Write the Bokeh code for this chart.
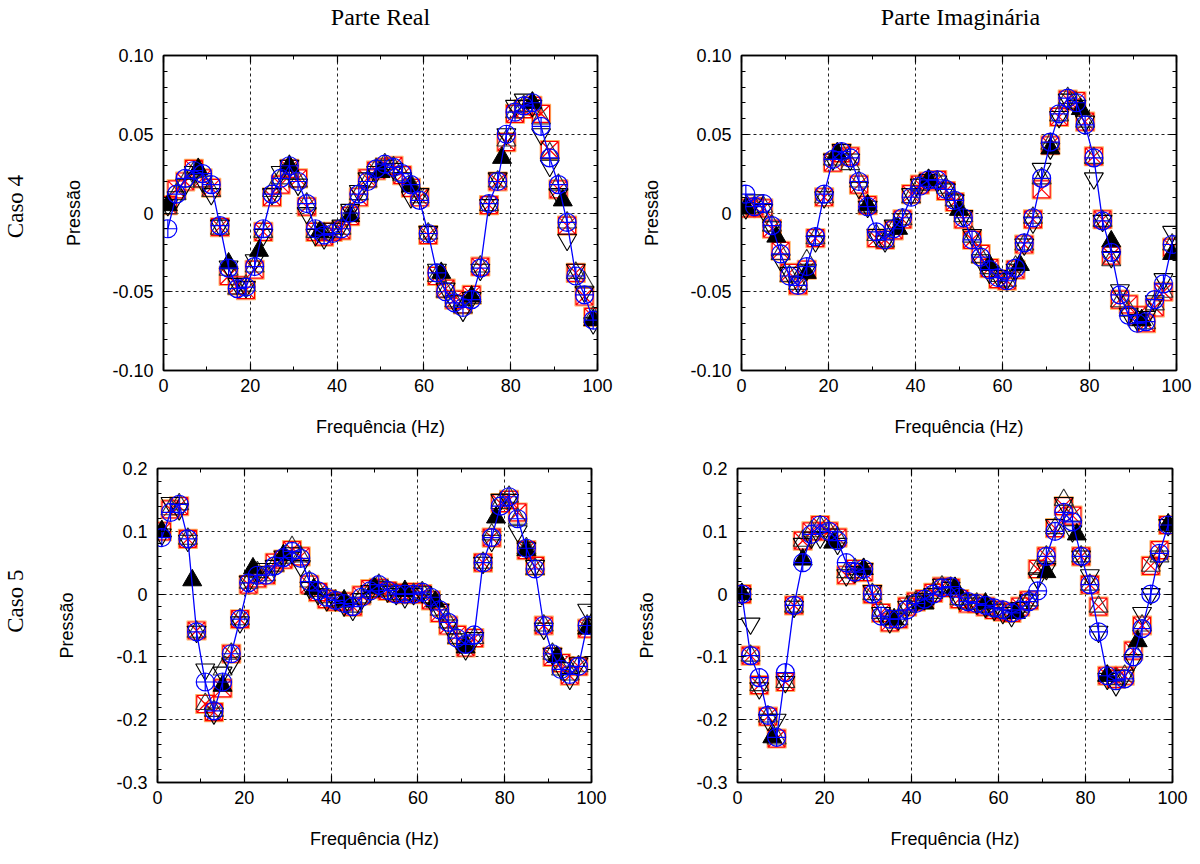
import math
from bokeh.plotting import figure
from bokeh.models import Range1d, FixedTicker, LinearAxis, Label
from bokeh.layouts import column, row
from bokeh.embed import file_html
from bokeh.resources import INLINE

# ---------------- data ----------------
F = [1, 3, 5, 7, 9, 11, 13, 15, 17, 19, 21, 23, 25, 27, 29, 31, 33, 35, 37, 39,
     41, 43, 45, 47, 49, 51, 53, 55, 57, 59, 61, 63, 65, 67, 69, 71, 73, 75, 77, 79,
     81, 83, 85, 87, 89, 91, 93, 95, 97, 99]
F7 = [1, 8, 15, 22, 29, 36, 43, 50, 57, 64, 71, 78, 85, 92, 99]

COL_TITLES = ["Parte Real", "Parte Imaginária"]
ROW_TITLES = ["Caso 4", "Caso 5"]

# Caso 4 - Parte Real
c4_re_blue = [-0.010, 0.012, 0.022, 0.027, 0.025, 0.018, -0.008, -0.035, -0.048, -0.047,
              -0.034, -0.010, 0.012, 0.022, 0.030, 0.020, 0.006, -0.010, -0.014, -0.013,
              -0.010, 0.000, 0.012, 0.020, 0.028, 0.031, 0.029, 0.025, 0.018, 0.008,
              -0.013, -0.038, -0.050, -0.057, -0.060, -0.055, -0.035, 0.006, 0.020, 0.050,
              0.064, 0.068, 0.070, 0.055, 0.035, 0.018, -0.006, -0.040, -0.052, -0.068]
c4_re_red = [0.005, 0.015, 0.020, 0.028, 0.022, 0.016, -0.009, -0.040, -0.046, -0.049,
             -0.036, -0.012, 0.010, 0.018, 0.028, 0.022, 0.004, -0.012, -0.015, -0.012,
             -0.011, -0.002, 0.010, 0.022, 0.027, 0.029, 0.030, 0.024, 0.016, 0.010,
             -0.014, -0.040, -0.048, -0.055, -0.058, -0.052, -0.034, 0.005, 0.020, 0.045,
             0.063, 0.066, 0.068, 0.063, 0.040, 0.015, -0.008, -0.038, -0.053, -0.066]
c4_re_dn = [0.005, 0.010, 0.018, 0.026, 0.020, 0.012, -0.008, -0.034, -0.045, -0.047,
            -0.030, -0.014, 0.012, 0.026, 0.030, 0.018, 0.000, -0.014, -0.016, -0.010,
            -0.008, 0.002, 0.014, 0.022, 0.026, 0.030, 0.028, 0.022, 0.010, 0.012,
            -0.012, -0.036, -0.048, -0.056, -0.062, -0.054, -0.036, 0.005, 0.022, 0.050,
            0.068, 0.072, 0.068, 0.050, 0.030, 0.012, -0.017, -0.036, -0.050, -0.070]
c4_re_up = [0.003, 0.012, 0.020, 0.026, 0.020, 0.014, -0.010, -0.036, -0.048, -0.046,
            -0.034, -0.012, 0.014, 0.022, 0.025, 0.020, 0.006, -0.012, -0.013, -0.012,
            -0.010, 0.000, 0.012, 0.020, 0.028, 0.031, 0.029, 0.024, 0.018, 0.010,
            -0.013, -0.040, -0.050, -0.056, -0.060, -0.054, -0.034, 0.005, 0.020, 0.046,
            0.064, 0.068, 0.070, 0.060, 0.038, 0.018, -0.006, -0.038, -0.044, -0.066]
c4_re_fill = [0.005, 0.028, -0.032, -0.024, 0.030, -0.012, -0.002, 0.026, 0.017, -0.038,
              -0.053, 0.035, 0.070, 0.008, -0.068]

# Caso 4 - Parte Imaginaria
c4_im_blue = [0.012, 0.004, 0.006, -0.008, -0.026, -0.040, -0.046, -0.034, -0.015, 0.012,
              0.034, 0.039, 0.035, 0.020, 0.004, -0.012, -0.017, -0.010, -0.003, 0.010,
              0.017, 0.021, 0.021, 0.015, 0.008, -0.003, -0.017, -0.028, -0.036, -0.041,
              -0.043, -0.035, -0.019, -0.003, 0.022, 0.045, 0.063, 0.073, 0.070, 0.056,
              0.035, -0.005, -0.025, -0.052, -0.065, -0.070, -0.069, -0.055, -0.045, -0.020]
c4_im_red = [0.003, 0.004, 0.003, -0.010, -0.024, -0.038, -0.046, -0.036, -0.016, 0.010,
             0.032, 0.038, 0.036, 0.018, 0.005, -0.016, -0.017, -0.011, -0.004, 0.012,
             0.018, 0.020, 0.021, 0.014, 0.007, -0.004, -0.017, -0.026, -0.035, -0.042,
             -0.043, -0.036, -0.020, -0.004, 0.015, 0.043, 0.061, 0.072, 0.071, 0.058,
             0.036, -0.004, -0.027, -0.055, -0.058, -0.065, -0.070, -0.060, -0.050, -0.022]
c4_im_dn = [0.003, 0.008, 0.002, -0.009, -0.030, -0.038, -0.044, -0.036, -0.018, 0.010,
            0.034, 0.040, 0.034, 0.016, 0.004, -0.014, -0.018, -0.008, -0.004, 0.012,
            0.018, 0.021, 0.020, 0.015, 0.008, -0.002, -0.014, -0.030, -0.038, -0.040,
            -0.042, -0.036, -0.020, -0.006, 0.028, 0.041, 0.061, 0.072, 0.068, 0.058,
            0.022, -0.005, -0.028, -0.049, -0.064, -0.068, -0.066, -0.056, -0.042, -0.012]
c4_im_up = [0.003, 0.004, 0.004, -0.008, -0.026, -0.040, -0.045, -0.030, -0.016, 0.010,
            0.034, 0.038, 0.031, 0.020, 0.004, -0.014, -0.018, -0.010, -0.004, 0.010,
            0.018, 0.021, 0.020, 0.016, 0.008, -0.002, -0.015, -0.028, -0.035, -0.040,
            -0.043, -0.034, -0.020, -0.003, 0.022, 0.044, 0.062, 0.073, 0.070, 0.058,
            0.035, -0.005, -0.030, -0.056, -0.062, -0.068, -0.070, -0.058, -0.050, -0.020]
c4_im_fill = [0.003, -0.015, -0.038, 0.038, 0.005, -0.010, 0.021, 0.002, -0.033, -0.033,
              0.041, 0.066, -0.018, -0.068, -0.026]

# Caso 5 - Parte Real
c5_re_blue = [0.090, 0.130, 0.143, 0.088, -0.060, -0.140, -0.186, -0.140, -0.095, -0.040,
              0.018, 0.030, 0.030, 0.045, 0.058, 0.068, 0.057, 0.020, 0.005, -0.005,
              -0.010, -0.015, -0.020, -0.005, 0.005, 0.015, 0.006, 0.000, 0.000, 0.000,
              0.003, -0.005, -0.025, -0.045, -0.070, -0.080, -0.065, 0.050, 0.090, 0.140,
              0.155, 0.120, 0.073, 0.040, -0.050, -0.095, -0.120, -0.128, -0.115, -0.050]
c5_re_red = [0.100, 0.135, 0.140, 0.088, -0.058, -0.175, -0.188, -0.150, -0.095, -0.040,
             0.015, 0.025, 0.030, 0.050, 0.055, 0.070, 0.060, 0.015, 0.003, -0.008,
             -0.012, -0.012, -0.020, -0.002, 0.008, 0.010, 0.005, 0.002, 0.000, 0.003,
             0.000, -0.010, -0.030, -0.050, -0.065, -0.085, -0.070, 0.050, 0.090, 0.145,
             0.150, 0.130, 0.070, 0.045, -0.050, -0.100, -0.110, -0.130, -0.115, -0.055]
c5_re_dn = [0.095, 0.145, 0.135, 0.085, -0.060, -0.120, -0.190, -0.125, -0.110, -0.045,
            0.020, 0.035, 0.040, 0.045, 0.060, 0.065, 0.045, 0.010, 0.000, -0.010,
            -0.010, -0.018, -0.025, -0.008, 0.005, 0.012, 0.004, 0.000, -0.005, 0.000,
            0.003, -0.010, -0.025, -0.050, -0.072, -0.088, -0.070, 0.050, 0.085, 0.150,
            0.150, 0.100, 0.073, 0.045, -0.055, -0.095, -0.118, -0.135, -0.110, -0.025]
c5_re_up = [0.100, 0.135, 0.143, 0.088, -0.060, -0.175, -0.186, -0.120, -0.095, -0.040,
            0.018, 0.035, 0.030, 0.045, 0.058, 0.075, 0.060, 0.020, 0.005, -0.005,
            -0.010, -0.012, -0.020, -0.005, 0.005, 0.015, 0.006, 0.000, 0.000, 0.000,
            0.003, -0.005, -0.025, -0.045, -0.070, -0.080, -0.070, 0.050, 0.095, 0.145,
            0.155, 0.120, 0.073, 0.040, -0.050, -0.095, -0.120, -0.128, -0.115, -0.050]
c5_re_fill = [0.100, 0.022, -0.146, 0.041, 0.062, 0.008, -0.010, 0.010, 0.005, -0.012,
              -0.085, 0.122, 0.070, -0.100, -0.055]

# Caso 5 - Parte Imaginaria
c5_im_blue = [0.000, -0.098, -0.133, -0.193, -0.228, -0.125, -0.018, 0.050, 0.095, 0.110,
              0.100, 0.085, 0.050, 0.035, 0.040, 0.000, -0.035, -0.040, -0.040, -0.025,
              -0.015, -0.008, 0.000, 0.010, 0.012, -0.005, -0.012, -0.015, -0.018, -0.022,
              -0.025, -0.030, -0.025, -0.012, 0.005, 0.060, 0.100, 0.130, 0.115, 0.060,
              0.015, -0.060, -0.130, -0.138, -0.135, -0.100, -0.055, 0.000, 0.065, 0.110]
c5_im_red = [0.000, -0.098, -0.145, -0.195, -0.230, -0.140, -0.018, 0.085, 0.100, 0.110,
             0.100, 0.090, 0.030, 0.040, 0.035, 0.000, -0.030, -0.045, -0.040, -0.020,
             -0.012, -0.008, 0.002, 0.012, 0.010, -0.008, -0.015, -0.015, -0.020, -0.025,
             -0.028, -0.030, -0.020, -0.010, 0.040, 0.060, 0.105, 0.140, 0.125, 0.060,
             0.015, -0.020, -0.130, -0.135, -0.130, -0.090, -0.050, 0.045, 0.070, 0.110]
c5_im_dn = [0.000, -0.047, -0.150, -0.200, -0.200, -0.140, -0.020, 0.080, 0.090, 0.090,
            0.095, 0.080, 0.030, 0.035, 0.040, 0.005, -0.030, -0.045, -0.040, -0.020,
            -0.012, -0.008, 0.000, 0.015, 0.010, -0.008, -0.010, -0.015, -0.020, -0.025,
            -0.030, -0.035, -0.022, -0.010, 0.025, 0.040, 0.110, 0.145, 0.100, 0.060,
            0.030, -0.060, -0.135, -0.145, -0.130, -0.105, -0.030, 0.000, 0.060, 0.110]
c5_im_up = [0.000, -0.098, -0.145, -0.195, -0.230, -0.140, -0.020, 0.085, 0.100, 0.108,
            0.100, 0.090, 0.035, 0.040, 0.040, 0.000, -0.030, -0.040, -0.040, -0.020,
            -0.012, -0.008, 0.002, 0.012, 0.010, -0.008, -0.015, -0.015, -0.020, -0.025,
            -0.028, -0.030, -0.020, -0.010, 0.040, 0.060, 0.105, 0.150, 0.125, 0.060,
            0.015, -0.020, -0.130, -0.135, -0.130, -0.090, -0.050, 0.045, 0.060, 0.110]
c5_im_fill = [0.000, -0.228, 0.055, 0.082, 0.040, -0.040, -0.015, 0.010, -0.015, -0.030,
              0.035, 0.095, -0.130, -0.075, 0.111]

X_TICKS = [0, 20, 40, 60, 80, 100]
X_MINOR = [10, 30, 50, 70, 90]
Y4_TICKS = [-0.10, -0.05, 0.0, 0.05, 0.10]
Y4_MINOR = [-0.09, -0.08, -0.07, -0.06, -0.04, -0.03, -0.02, -0.01,
            0.01, 0.02, 0.03, 0.04, 0.06, 0.07, 0.08, 0.09]
Y4_LABELS = {-0.10: "-0.10", -0.05: "-0.05", 0.0: "0", 0.05: "0.05", 0.10: "0.10"}
Y5_TICKS = [-0.3, -0.2, -0.1, 0.0, 0.1, 0.2]
Y5_MINOR = [-0.28, -0.26, -0.24, -0.22, -0.18, -0.16, -0.14, -0.12, -0.08, -0.06,
            -0.04, -0.02, 0.02, 0.04, 0.06, 0.08, 0.12, 0.14, 0.16, 0.18]
Y5_LABELS = {-0.3: "-0.3", -0.2: "-0.2", -0.1: "-0.1", 0.0: "0", 0.1: "0.1", 0.2: "0.2"}

SANS = "Liberation Sans"
SERIF = "Liberation Serif"


def style_axis(ax, show_labels=True):
    ax.axis_line_color = "black"
    ax.axis_line_width = 1.5
    ax.major_tick_in = 7
    ax.major_tick_out = 0
    ax.minor_tick_in = 4
    ax.minor_tick_out = 0
    ax.major_tick_line_color = "black"
    ax.minor_tick_line_color = "black"
    ax.major_tick_line_width = 1.2
    ax.minor_tick_line_width = 1.0
    ax.major_label_text_font = SANS
    if show_labels:
        ax.major_label_text_color = "black"
        ax.major_label_text_font_size = "18px"
    else:
        ax.major_label_text_color = None
        ax.major_label_text_font_size = "1px"
        ax.major_label_standoff = 0


def blank(width, height):
    b = figure(width=width, height=height, min_border=0, x_range=Range1d(0, width),
               y_range=Range1d(0, height), x_axis_type=None, y_axis_type=None,
               output_backend="svg", toolbar_location=None)
    b.outline_line_color = None
    b.background_fill_color = "white"
    b.border_fill_color = "white"
    return b


def panel(blue, red, dn, up, fill, yr, yt, ym, ylab, left, right, top, bottom,
          fw, fh, ylabel_standoff):
    p = figure(frame_width=fw, frame_height=fh, min_border_left=left,
               min_border_right=right, min_border_top=top, min_border_bottom=bottom,
               x_range=Range1d(0, 100), y_range=Range1d(yr[0], yr[1]),
               output_backend="svg", toolbar_location=None, title=None)
    p.outline_line_color = "black"
    p.outline_line_width = 1.5
    p.background_fill_color = "white"
    p.border_fill_color = "white"

    p.xaxis.ticker = FixedTicker(ticks=X_TICKS, minor_ticks=X_MINOR)
    p.yaxis.ticker = FixedTicker(ticks=yt, minor_ticks=ym)
    p.yaxis.major_label_overrides = ylab
    for ax in p.xaxis + p.yaxis:
        style_axis(ax)
    p.xaxis.major_label_standoff = 8
    p.yaxis.major_label_standoff = 10
    p.xaxis.axis_label = "Frequência (Hz)"
    p.yaxis.axis_label = "Pressão"
    for ax in p.xaxis + p.yaxis:
        ax.axis_label_text_font = SANS
        ax.axis_label_text_font_size = "18px"
        ax.axis_label_text_font_style = "normal"
        ax.axis_label_text_color = "black"
    p.xaxis.axis_label_standoff = 22
    p.yaxis.axis_label_standoff = ylabel_standoff

    top_ax = LinearAxis(ticker=FixedTicker(ticks=X_TICKS, minor_ticks=X_MINOR))
    style_axis(top_ax, False)
    p.add_layout(top_ax, "above")
    right_ax = LinearAxis(ticker=FixedTicker(ticks=yt, minor_ticks=ym))
    style_axis(right_ax, False)
    p.add_layout(right_ax, "right")

    p.xgrid.ticker = FixedTicker(ticks=X_TICKS)
    p.ygrid.ticker = FixedTicker(ticks=yt)
    for g in p.xgrid + p.ygrid:
        g.grid_line_color = "#222222"
        g.grid_line_dash = "3 3"
        g.grid_line_width = 1.0

    p.scatter(F, red, marker="square", size=19, fill_color=None,
              line_color="#ffa040", line_width=1.1, line_alpha=0.85)
    p.scatter(F, red, marker="square_x", size=17, fill_color=None,
              line_color="#ff0000", line_width=1.2)
    p.scatter(F, up, marker="triangle", size=19, fill_color=None,
              line_color="#333333", line_width=1.1)
    p.scatter(F, dn, marker="inverted_triangle", size=19, fill_color=None,
              line_color="black", line_width=1.1)
    p.scatter(F7, fill, marker="triangle", size=19, fill_color="black",
              line_color="black", line_width=1.0)
    p.line(F, blue, line_color="#0000ff", line_width=1.3)
    p.scatter(F, blue, marker="circle_cross", size=18, fill_color=None,
              line_color="#0000ff", line_width=1.2)
    return p


# header with column titles
header = blank(1200, 30)
for txt, cx in zip(COL_TITLES, [380, 960]):
    header.add_layout(Label(x=cx, y=14, text=txt, text_align="center",
                            text_baseline="middle", text_font=SERIF,
                            text_font_size="24px", text_color="black"))

strip4 = blank(30, 415)
strip4.add_layout(Label(x=15, y=216, text=ROW_TITLES[0], angle=math.pi / 2,
                        text_align="center", text_baseline="middle", text_font=SERIF,
                        text_font_size="23px", text_color="black"))
strip5 = blank(30, 412)
strip5.add_layout(Label(x=15, y=238, text=ROW_TITLES[1], angle=math.pi / 2,
                        text_align="center", text_baseline="middle", text_font=SERIF,
                        text_font_size="23px", text_color="black"))

tl = panel(c4_re_blue, c4_re_red, c4_re_dn, c4_re_up, c4_re_fill,
           (-0.10, 0.10), Y4_TICKS, Y4_MINOR, Y4_LABELS,
           133, 20, 25, 75, 434, 315, 25)
tr = panel(c4_im_blue, c4_im_red, c4_im_dn, c4_im_up, c4_im_fill,
           (-0.10, 0.10), Y4_TICKS, Y4_MINOR, Y4_LABELS,
           124, 20, 25, 75, 435, 315, 25)
bl = panel(c5_re_blue, c5_re_red, c5_re_dn, c5_re_up, c5_re_fill,
           (-0.3, 0.2), Y5_TICKS, Y5_MINOR, Y5_LABELS,
           127, 20, 23, 75, 434, 314, 36)
br = panel(c5_im_blue, c5_im_red, c5_im_dn, c5_im_up, c5_im_fill,
           (-0.3, 0.2), Y5_TICKS, Y5_MINOR, Y5_LABELS,
           126, 20, 23, 75, 435, 314, 36)

layout = column(header, row(strip4, tl, tr), row(strip5, bl, br))
open("out.html", "w").write(file_html(layout, INLINE))
